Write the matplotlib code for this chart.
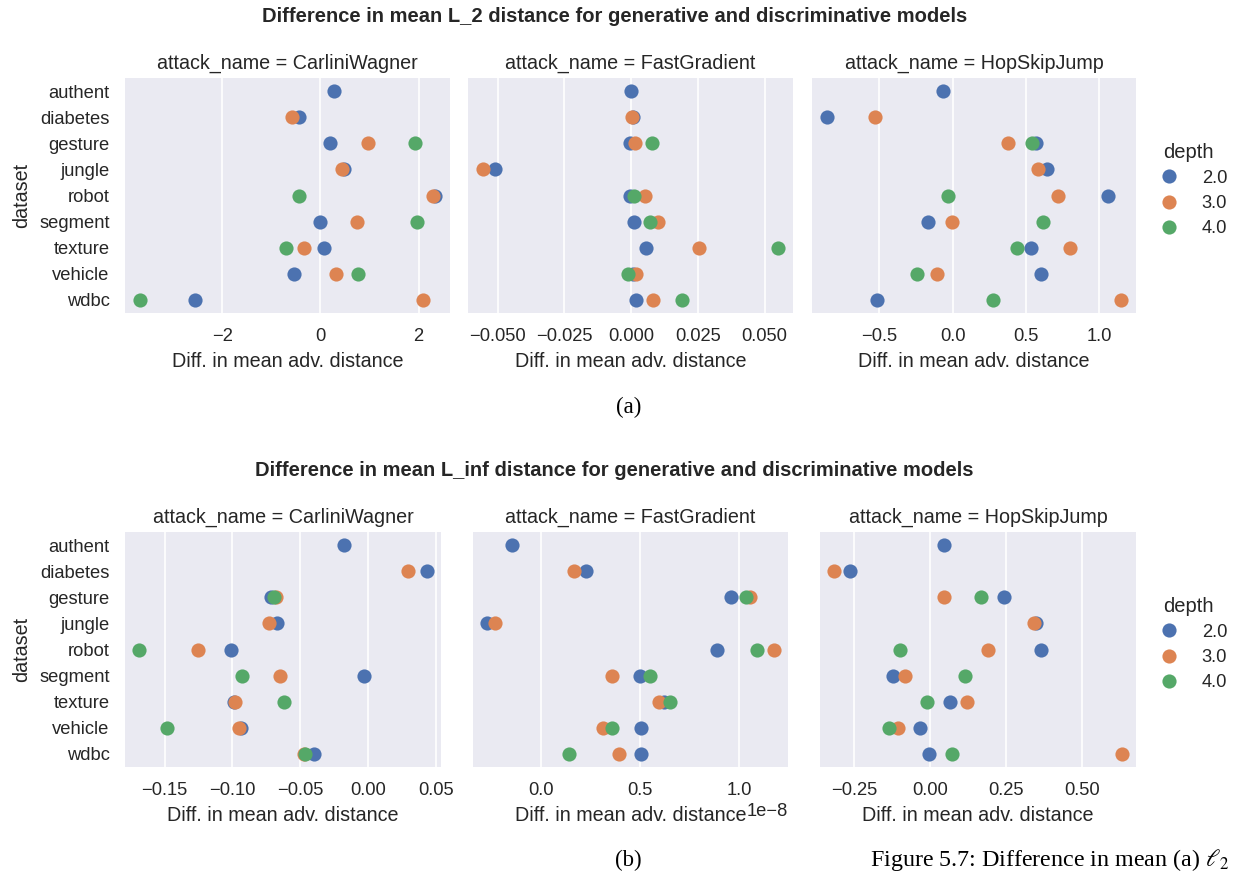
import numpy as np
import matplotlib
matplotlib.use("Agg")
import matplotlib.pyplot as plt
from matplotlib.lines import Line2D

nan = np.nan

datasets = ["authent", "diabetes", "gesture", "jungle", "robot",
            "segment", "texture", "vehicle", "wdbc"]
depths = ["2.0", "3.0", "4.0"]
attacks = ["CarliniWagner", "FastGradient", "HopSkipJump"]

# rows = depth 2.0 / 3.0 / 4.0, columns follow `datasets`
l2_carlini = [
    [0.28, -0.43, 0.20, 0.48, 2.34, -0.01, 0.07, -0.53, -2.55],
    [nan, -0.58, 0.97, 0.45, 2.29, 0.75, -0.34, 0.32, 2.09],
    [nan, nan, 1.92, nan, -0.44, 1.97, -0.71, 0.77, -3.68],
]
l2_fastgrad = [
    [0.0000, 0.0005, -0.0004, -0.0512, -0.0004, 0.0011, 0.0057, 0.0005, 0.0017],
    [nan, 0.0003, 0.0015, -0.0556, 0.0052, 0.0102, 0.0256, 0.0019, 0.0082],
    [nan, nan, 0.0077, nan, 0.0012, 0.0071, 0.0551, -0.0012, 0.0192],
]
l2_hopskip = [
    [-0.063, -0.857, 0.566, 0.645, 1.059, -0.170, 0.532, 0.604, -0.516],
    [nan, -0.527, 0.380, 0.581, 0.719, -0.002, 0.799, -0.104, 1.149],
    [nan, nan, 0.543, nan, -0.034, 0.618, 0.437, -0.244, 0.278],
]
linf_carlini = [
    [-0.0179, 0.0431, -0.0717, -0.0673, -0.1012, -0.0027, -0.0991, -0.0937, -0.0399],
    [nan, 0.0294, -0.0678, -0.0729, -0.1252, -0.0651, -0.0979, -0.0950, -0.0472],
    [nan, nan, -0.0692, nan, -0.1686, -0.0932, -0.0617, -0.1483, -0.0465],
]
linf_fastgrad = [
    [-0.147e-8, 0.224e-8, 0.960e-8, -0.273e-8, 0.890e-8, 0.497e-8, 0.622e-8, 0.505e-8, 0.505e-8],
    [nan, 0.167e-8, 1.052e-8, -0.236e-8, 1.174e-8, 0.355e-8, 0.597e-8, 0.313e-8, 0.391e-8],
    [nan, nan, 1.032e-8, nan, 1.090e-8, 0.550e-8, 0.652e-8, 0.355e-8, 0.142e-8],
]
linf_hopskip = [
    [0.046, -0.264, 0.244, 0.350, 0.366, -0.122, 0.066, -0.034, -0.003],
    [nan, -0.315, 0.047, 0.342, 0.190, -0.082, 0.123, -0.107, 0.631],
    [nan, nan, 0.168, nan, -0.100, 0.114, -0.010, -0.134, 0.074],
]

l2_ticks = [[-2, 0, 2], [-0.05, -0.025, 0.0, 0.025, 0.05], [-0.5, 0.0, 0.5, 1.0]]
linf_ticks = [[-0.15, -0.10, -0.05, 0.0, 0.05], [0.0, 0.5e-8, 1.0e-8], [-0.25, 0.0, 0.25, 0.5]]

COLORS = ["#4C72B0", "#DD8452", "#55A868"]
TXT = "#262626"
BG = "#EAEAF2"

plt.rcParams["font.family"] = ["Liberation Sans", "DejaVu Sans"]
plt.rcParams["text.color"] = TXT
plt.rcParams["axes.labelcolor"] = TXT
plt.rcParams["xtick.color"] = TXT
plt.rcParams["ytick.color"] = TXT

W, H = 1238, 874
fig = plt.figure(figsize=(W / 100, H / 100), dpi=100)


def px_box(x0, y0, x1, y1):
    return [x0 / W, 1 - y1 / H, (x1 - x0) / W, (y1 - y0) / H]


def draw_panel(box, panel, ticks, attack, first):
    ax = fig.add_axes(px_box(*box))
    ax.set_facecolor(BG)
    for s in ax.spines.values():
        s.set_visible(False)
    y = np.arange(len(datasets))
    for k, vals in enumerate(panel):
        ax.scatter(vals, y, s=104, color=COLORS[k], linewidths=0, zorder=3 + k)
    ax.set_ylim(len(datasets) - 0.5, -0.5)
    ax.set_xticks(ticks)
    ax.grid(axis="x", color="white", linewidth=1.2, zorder=0)
    ax.set_axisbelow(True)
    ax.tick_params(length=0, pad=11, labelsize=13.2)
    ax.set_yticks(y)
    if first:
        ax.set_yticklabels(datasets)
        ax.set_ylabel("dataset", fontsize=14.2, labelpad=6)
    else:
        ax.set_yticklabels([])
    ax.set_xlabel("Diff. in mean adv. distance", fontsize=14.2, labelpad=5)
    ax.set_title(f"attack_name = {attack}", fontsize=14.2, pad=7)
    ax.xaxis.get_offset_text().set_fontsize(13.2)
    return ax


top_boxes = [(125, 78, 450, 313), (468, 78, 793, 313), (812, 78, 1136, 313)]
bot_boxes = [(125, 532, 441, 767), (473, 532, 788, 767), (820, 532, 1136, 767)]

for i, (panel, box) in enumerate(zip([l2_carlini, l2_fastgrad, l2_hopskip], top_boxes)):
    draw_panel(box, panel, l2_ticks[i], attacks[i], i == 0)
for i, (panel, box) in enumerate(zip([linf_carlini, linf_fastgrad, linf_hopskip], bot_boxes)):
    draw_panel(box, panel, linf_ticks[i], attacks[i], i == 0)

handles = [Line2D([], [], marker="o", linestyle="", markersize=10.2,
                  markerfacecolor=c, markeredgewidth=0) for c in COLORS]
for yc in (190, 644):
    fig.legend(handles, depths, title="depth", loc="center left",
               bbox_to_anchor=(1143 / W, 1 - yc / H), frameon=False,
               fontsize=13.2, title_fontsize=14.5, borderaxespad=0,
               handletextpad=0.8, labelspacing=0.45)

fig.text(615 / W, 1 - 17 / H,
         "Difference in mean L_2 distance for generative and discriminative models",
         ha="center", va="center", fontsize=14.5, fontweight="bold")
fig.text(614 / W, 1 - 470 / H,
         "Difference in mean L_inf distance for generative and discriminative models",
         ha="center", va="center", fontsize=14.5, fontweight="bold")

serif = ["Liberation Serif", "DejaVu Serif"]
fig.text(629 / W, 1 - 407 / H, "(a)", ha="center", va="center",
         fontsize=16.5, family=serif, color="black")
fig.text(628 / W, 1 - 860 / H, "(b)", ha="center", va="center",
         fontsize=16.5, family=serif, color="black")
fig.text(870 / W, 1 - 860 / H, r"Figure 5.7: Difference in mean (a) $\ell_2$",
         ha="left", va="center", fontsize=17.3, family=serif, color="black",
         math_fontfamily="stix")

fig.savefig("out.png", dpi=100)
